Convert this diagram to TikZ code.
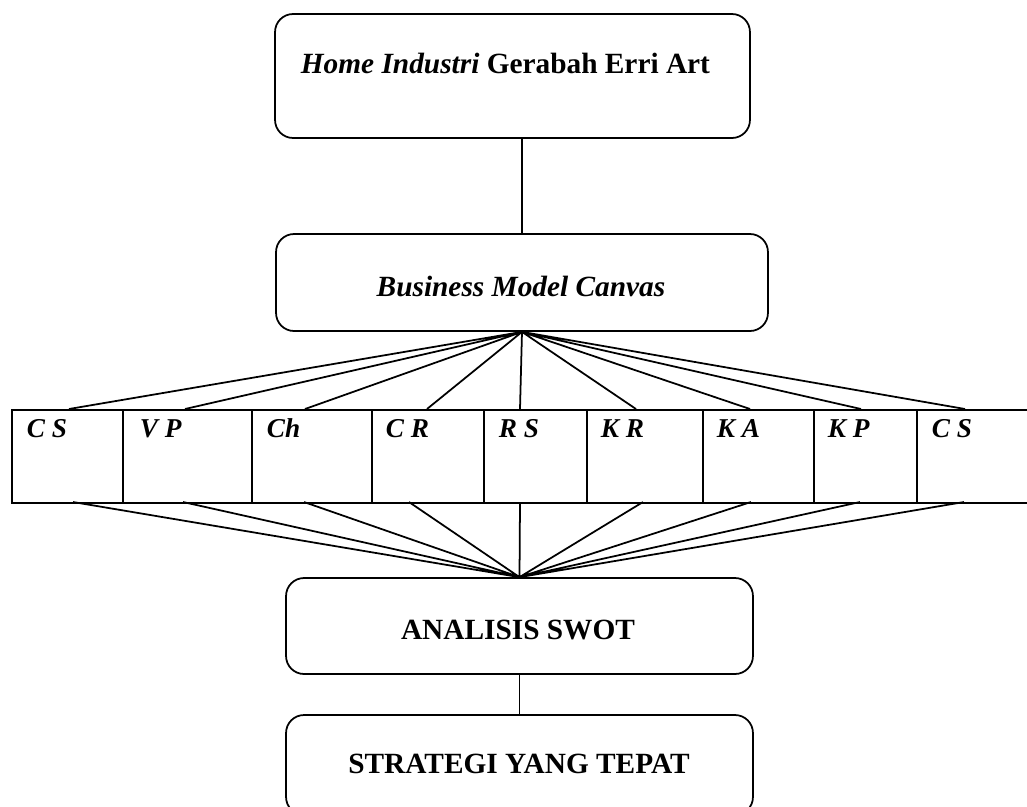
\documentclass[tikz,border=0pt]{standalone}
\usepackage{fontspec}
\setmainfont{Liberation Serif}
\begin{document}
\begin{tikzpicture}[x=0.02cm,y=-0.02cm,line width=1pt,
    box/.style={draw,rounded corners=0.36cm,inner sep=0pt},
    cell/.style={draw,anchor=north west,inner sep=0pt,minimum height=1.86cm},
    lbl/.style={anchor=base,inner sep=0pt,font=\fontsize{16.7}{20}\selectfont\bfseries},
    tag/.style={anchor=base west,inner sep=0pt,font=\fontsize{15.5}{18}\selectfont\bfseries\itshape}]
    \clip (0,0) rectangle (1027,806);

    % main boxes
    \node[box,minimum width=9.5cm,minimum height=2.48cm] (home) at (512.5,76) {};
    \node[box,minimum width=9.84cm,minimum height=1.94cm] (bmc) at (522,282.5) {};
    \node[box,minimum width=9.34cm,minimum height=1.92cm] (swot) at (519.5,626) {};
    \node[box,minimum width=9.34cm,minimum height=2.0cm] (strat) at (519.5,765) {};

    \node[lbl,anchor=base west] (homeT) at (300,73) {\textit{Home Industri} Gerabah Erri Art};
    \node[lbl] (bmcT) at (521,296) {\textit{Business Model Canvas}};
    \node[lbl] (swotT) at (518,639) {ANALISIS SWOT};
    \node[lbl] (stratT) at (519,773) {STRATEGI YANG TEPAT};

    \draw
        (bmc.north |- home.south) -- (bmc.north)
        (swot.south) -- (strat.north);

    % canvas blocks
    \node[cell,minimum width=2.22cm] (c1) at (11,409) {};
    \node[cell,minimum width=2.58cm] (c2) at (122,409) {};
    \node[cell,minimum width=2.40cm] (c3) at (251,409) {};
    \node[cell,minimum width=2.24cm] (c4) at (371,409) {};
    \node[cell,minimum width=2.06cm] (c5) at (483,409) {};
    \node[cell,minimum width=2.32cm] (c6) at (586,409) {};
    \node[cell,minimum width=2.22cm] (c7) at (702,409) {};
    \node[cell,minimum width=2.06cm] (c8) at (813,409) {};
    \node[cell,minimum width=2.60cm] (c9) at (916,409) {};

    \node[tag] (t1) at (26,437) {C S};
    \node[tag] (t2) at (139,437) {V P};
    \node[tag] (t3) at (266,437) {Ch};
    \node[tag] (t4) at (385,437) {C R};
    \node[tag] (t5) at (498,437) {R S};
    \node[tag] (t6) at (600,437) {K R};
    \node[tag] (t7) at (716,437) {K A};
    \node[tag] (t8) at (827,437) {K P};
    \node[tag] (t9) at (931,437) {C S};

    % line ends on the blocks
    \coordinate (u1) at (69,409);  \coordinate (d1) at (73,502);
    \coordinate (u2) at (185,409); \coordinate (d2) at (183,502);
    \coordinate (u3) at (305,409); \coordinate (d3) at (304,502);
    \coordinate (u4) at (427,409); \coordinate (d4) at (409,502);
    \coordinate (u5) at (520,409); \coordinate (d5) at (520,502);
    \coordinate (u6) at (636,409); \coordinate (d6) at (643,502);
    \coordinate (u7) at (750,409); \coordinate (d7) at (751,502);
    \coordinate (u8) at (861,409); \coordinate (d8) at (860,502);
    \coordinate (u9) at (965,409); \coordinate (d9) at (964,502);

    \draw
        (bmc.south) -- (u1) (bmc.south) -- (u2) (bmc.south) -- (u3)
        (bmc.south) -- (u4) (bmc.south) -- (u5) (bmc.south) -- (u6)
        (bmc.south) -- (u7) (bmc.south) -- (u8) (bmc.south) -- (u9);

    \draw
        (swot.north) -- (d1) (swot.north) -- (d2) (swot.north) -- (d3)
        (swot.north) -- (d4) (swot.north) -- (d5) (swot.north) -- (d6)
        (swot.north) -- (d7) (swot.north) -- (d8) (swot.north) -- (d9);
\end{tikzpicture}
\end{document}
